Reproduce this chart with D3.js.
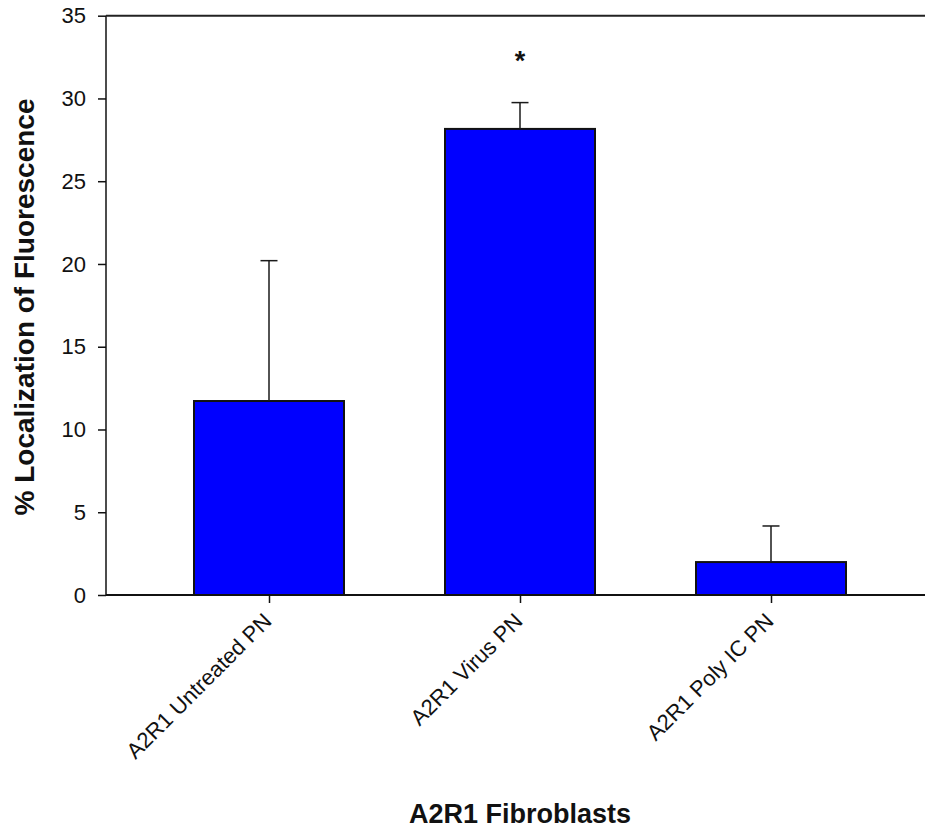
<!DOCTYPE html>
<html>
<head>
<meta charset="utf-8">
<script src="https://cdn.jsdelivr.net/npm/d3@7"></script>
<style>
  body { margin: 0; background: #fff; }
  svg { display: block; font-family: Arial, "Liberation Sans", sans-serif; }
</style>
</head>
<body>
<svg width="925" height="829"></svg>
<script>
// dati
var categorie = ["A2R1 Untreated PN", "A2R1 Virus PN", "A2R1 Poly IC PN"]
var medie = [11.72, 28.16, 1.99]
var errori = [8.48, 1.59, 2.18]
var significativo = [false, true, false]
var yTicks = [0, 5, 10, 15, 20, 25, 30, 35]

var svg = d3.select("svg")

var x0 = 106, x1 = 925
var yTop = 15.7, yBottom = 595

var x = d3.scalePoint()
	.domain(categorie)
	.range([143.5, 896.5])
	.padding(0.5)

var y = d3.scaleLinear()
	.domain([0, 35])
	.range([yBottom, yTop])

var larghezzaBarra = 150

var dati = categorie.map(function(c, i){
	return {cat: c, val: medie[i], err: errori[i], star: significativo[i]}
})

// barre
svg.append("g")
	.selectAll("rect")
	.data(dati)
	.enter().append("rect")
	.attr("x", function(d){ return x(d.cat) - larghezzaBarra/2 })
	.attr("y", function(d){ return y(d.val) })
	.attr("width", larghezzaBarra)
	.attr("height", function(d){ return y(0) - y(d.val) })
	.attr("fill", "#0000ff")
	.attr("stroke", "#111")
	.attr("stroke-width", 2)

// barre di errore (solo verso l'alto)
var eb = svg.append("g")
	.selectAll("g")
	.data(dati)
	.enter().append("g")
	.attr("stroke", "#1a1a1a")
	.attr("stroke-width", 1.5)
eb.append("line")
	.attr("x1", function(d){ return x(d.cat) })
	.attr("x2", function(d){ return x(d.cat) })
	.attr("y1", function(d){ return y(d.val) })
	.attr("y2", function(d){ return y(d.val + d.err) })
eb.append("line")
	.attr("x1", function(d){ return x(d.cat) - 8.5 })
	.attr("x2", function(d){ return x(d.cat) + 8.5 })
	.attr("y1", function(d){ return y(d.val + d.err) })
	.attr("y2", function(d){ return y(d.val + d.err) })

// asterisco
svg.append("g")
	.selectAll("text")
	.data(dati.filter(function(d){ return d.star }))
	.enter().append("text")
	.attr("x", function(d){ return x(d.cat) })
	.attr("y", function(d){ return y(d.val + d.err) - 33 })
	.attr("text-anchor", "middle")
	.attr("font-weight", "bold")
	.attr("font-size", "27px")
	.attr("fill", "#111")
	.text("*")

// asse y
var yAxis = svg.append("g")
	.attr("transform", "translate(" + x0 + ",0)")
	.call(d3.axisLeft(y).tickValues(yTicks).tickSize(8).tickPadding(12))
yAxis.select(".domain").remove()
yAxis.selectAll("line").attr("stroke", "#111").attr("stroke-width", 1.5)
yAxis.selectAll("text").attr("font-size", "22px").attr("font-family", "Arial, 'Liberation Sans', sans-serif").attr("fill", "#111")

svg.append("line")
	.attr("x1", x0).attr("x2", x0)
	.attr("y1", yTop).attr("y2", yBottom)
	.attr("stroke", "#111").attr("stroke-width", 1.5)

// linea superiore
svg.append("line")
	.attr("x1", x0).attr("x2", x1)
	.attr("y1", yTop).attr("y2", yTop)
	.attr("stroke", "#222").attr("stroke-width", 2)

// asse x
var xAxis = svg.append("g")
	.attr("transform", "translate(0," + yBottom + ")")
	.call(d3.axisBottom(x).tickSize(8).tickPadding(0))
xAxis.select(".domain").remove()
xAxis.selectAll("line").attr("stroke", "#111").attr("stroke-width", 1.5)
xAxis.selectAll("text")
	.attr("font-size", "22px")
	.attr("font-family", "Arial, 'Liberation Sans', sans-serif")
	.attr("fill", "#111")
	.attr("text-anchor", "end")
	.attr("y", 0)
	.attr("dy", "0.35em")
	.attr("transform", "translate(-2,22) rotate(-45)")

svg.append("line")
	.attr("x1", x0).attr("x2", x1)
	.attr("y1", yBottom).attr("y2", yBottom)
	.attr("stroke", "#111").attr("stroke-width", 2)

// titoli degli assi
svg.append("text")
	.attr("x", 520)
	.attr("y", 823)
	.attr("text-anchor", "middle")
	.attr("font-weight", "bold")
	.attr("font-size", "27px")
	.attr("fill", "#111")
	.text("A2R1 Fibroblasts")

svg.append("text")
	.attr("transform", "translate(34,307) rotate(-90)")
	.attr("text-anchor", "middle")
	.attr("font-weight", "bold")
	.attr("font-size", "28px")
	.attr("fill", "#111")
	.text("% Localization of Fluorescence")
</script>
</body>
</html>
